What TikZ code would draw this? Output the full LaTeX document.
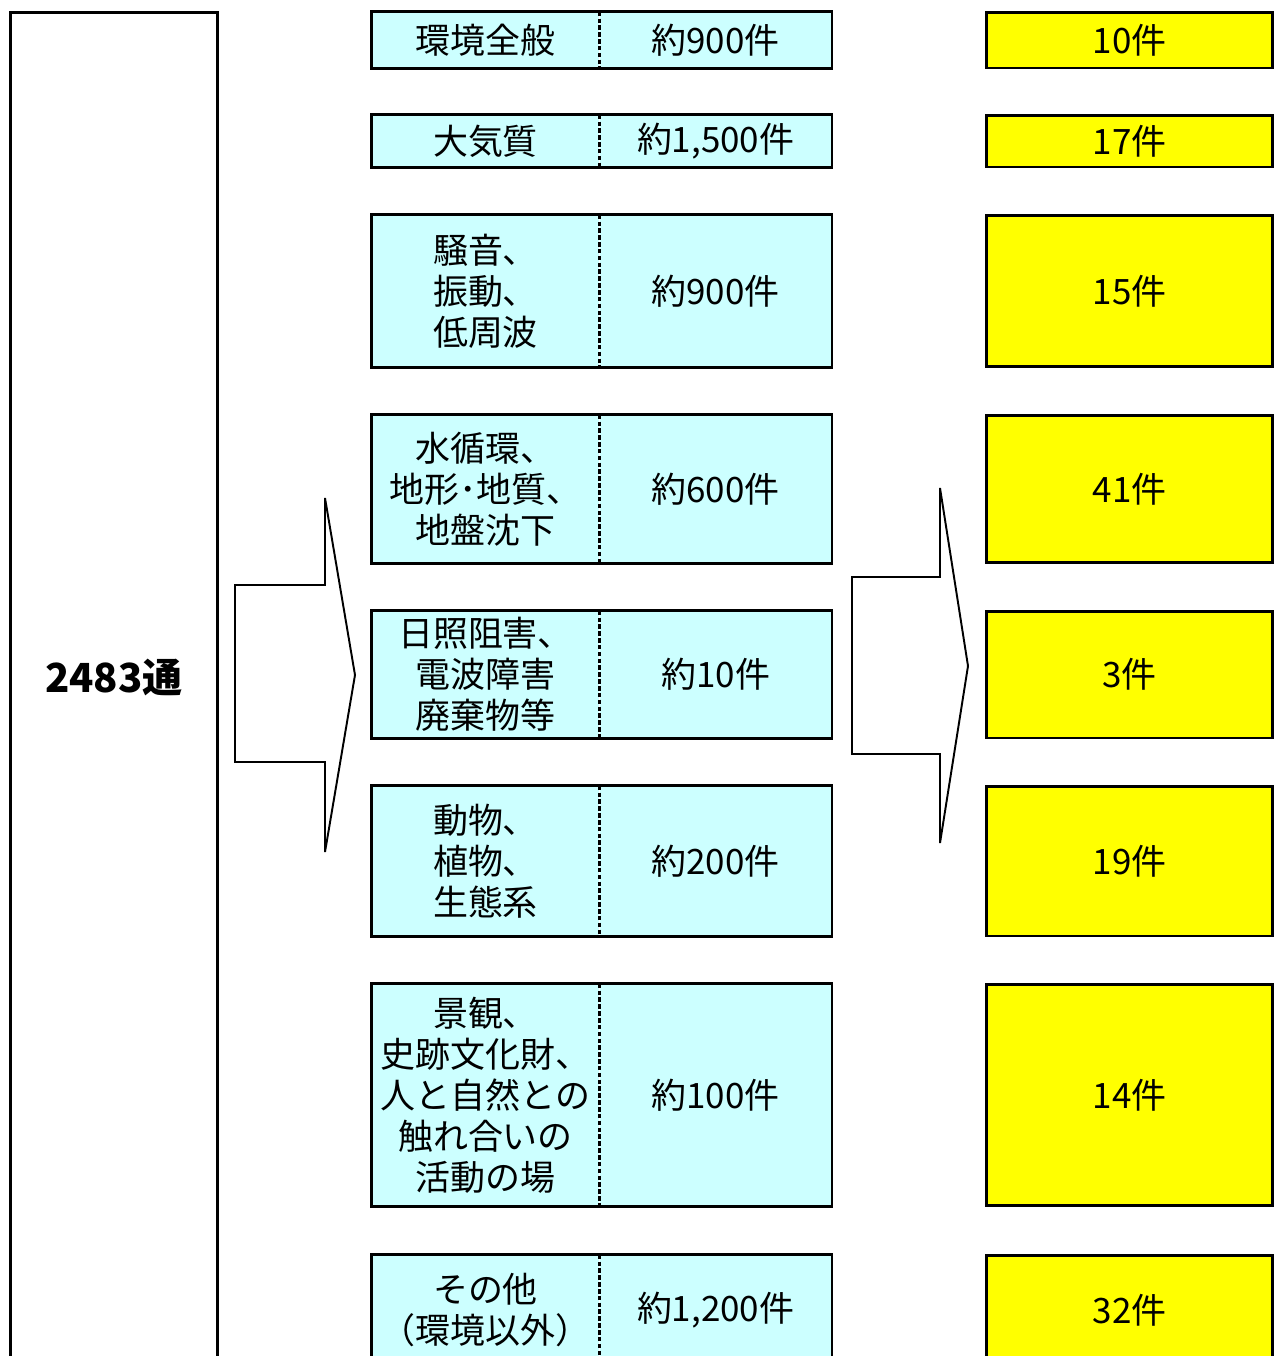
\documentclass[tikz,border=0pt]{standalone}
\usepackage{fontspec}
\setmainfont{Noto Sans CJK JP}
\usetikzlibrary{positioning}
\definecolor{paleblue}{HTML}{CCFFFF}
\definecolor{brightyellow}{HTML}{FFFF00}
\tikzset{
  topic/.style={fill=paleblue,minimum width=4.54cm,inner sep=0pt,align=center,
    font=\fontsize{19.9}{23.3}\selectfont},
  amount/.style={fill=paleblue,minimum width=4.64cm,inner sep=0pt,
    font=\fontsize{19.9}{23.3}\selectfont},
  result/.style={fill=brightyellow,draw,line width=1.7pt,minimum width=5.74cm,
    inner sep=0pt,font=\fontsize{19.9}{23.3}\selectfont},
  frame/.style={draw,line width=1.7pt},
  divider/.style={line width=1.4pt,dash pattern=on 2.6pt off 1.3pt},
  bigarrow/.style={draw,fill=white,line width=1.1pt,line join=miter}
}
\begin{document}
\begin{tikzpicture}[x=0.02cm,y=-0.02cm]
    \useasboundingbox (0,0) rectangle (1275,1356);

    \node [frame,minimum width=4.16cm,minimum height=27.76cm] (total) at (114,706) {};
    \node [font=\fontsize{22.8}{26}\selectfont\bfseries] (sum) at (114,677) {2483通};

    \draw [bigarrow] (235,585) -- (325,585) -- (325,498) -- (355,675)
      -- (325,852) -- (325,762) -- (235,762) -- cycle;
    \draw [bigarrow] (852,577) -- (940,577) -- (940,488) -- (968,666)
      -- (940,843) -- (940,754) -- (852,754) -- cycle;

    \node [topic,minimum height=1.12cm] (t1) at (485.5,40) {環境全般};
    \node [amount,minimum height=1.12cm,right=0pt of t1] (a1) {約900件};
    \node [result,minimum height=1.12cm] (r1) at (1129.5,40) {10件};

    \node [topic,minimum height=1.04cm] (t2) at (485.5,141) {大気質};
    \node [amount,minimum height=1.04cm,right=0pt of t2] (a2) {約1,500件};
    \node [result,minimum height=1.04cm] (r2) at (1129.5,141) {17件};

    \node [topic,minimum height=3.04cm] (t3) at (485.5,291) {騒音、\\振動、\\低周波};
    \node [amount,minimum height=3.04cm,right=0pt of t3] (a3) {約900件};
    \node [result,minimum height=3.04cm] (r3) at (1129.5,291) {15件};

    \node [topic,minimum height=2.96cm] (t4) at (485.5,489) {水循環、\\地形･地質、\\地盤沈下};
    \node [amount,minimum height=2.96cm,right=0pt of t4] (a4) {約600件};
    \node [result,minimum height=2.96cm] (r4) at (1129.5,489) {41件};

    \node [topic,minimum height=2.54cm] (t5) at (485.5,674.5) {日照阻害、\\電波障害\\廃棄物等};
    \node [amount,minimum height=2.54cm,right=0pt of t5] (a5) {約10件};
    \node [result,minimum height=2.54cm] (r5) at (1129.5,674.5) {3件};

    \node [topic,minimum height=3cm] (t6) at (485.5,861) {動物、\\植物、\\生態系};
    \node [amount,minimum height=3cm,right=0pt of t6] (a6) {約200件};
    \node [result,minimum height=3cm] (r6) at (1129.5,861) {19件};

    \node [topic,minimum height=4.44cm] (t7) at (485.5,1095)
      {景観、\\史跡文化財、\\人と自然との\\触れ合いの\\活動の場};
    \node [amount,minimum height=4.44cm,right=0pt of t7] (a7) {約100件};
    \node [result,minimum height=4.44cm] (r7) at (1129.5,1095) {14件};

    \node [topic,minimum height=2.2cm] (t8) at (485.5,1310) {その他\\（環境以外）};
    \node [amount,minimum height=2.2cm,right=0pt of t8] (a8) {約1,200件};
    \node [result,minimum height=2.2cm] (r8) at (1129.5,1310) {32件};

    \foreach \i in {1,...,8} {
      \draw [frame] (t\i.north west) rectangle (a\i.south east);
      \draw [divider] (t\i.north east) -- (t\i.south east);
    }
  \end{tikzpicture}
\end{document}
